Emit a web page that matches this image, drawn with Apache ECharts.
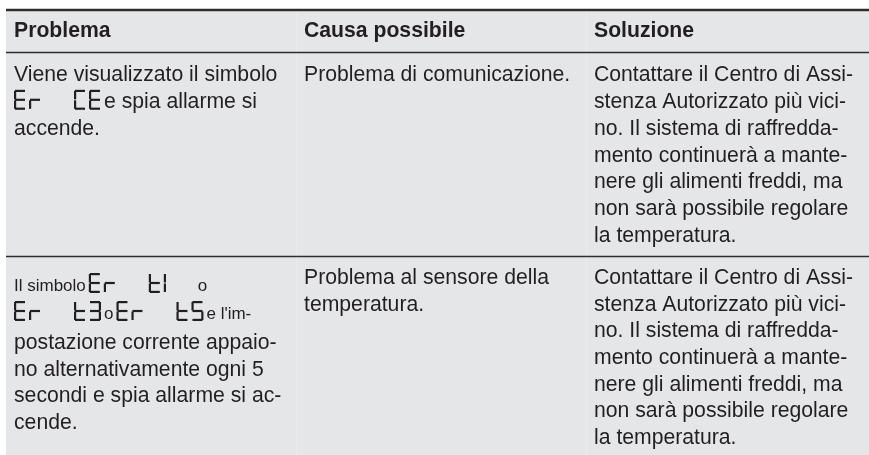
<!DOCTYPE html>
<html><head><meta charset="utf-8">
<script src="https://cdn.jsdelivr.net/npm/echarts@6/dist/echarts.min.js"></script>
<style>html,body{margin:0;padding:0;background:#fff}#c{width:869px;height:455px}</style>
</head><body><div id="c"></div>
<script>
// ---- table content ----
const headers = ["Problema", "Causa possibile", "Soluzione"];
// [..] marks a seven-segment display code, {..} marks small text
const problemLines = [
  ["Viene visualizzato il simbolo", "[Er  CE]e spia allarme si", "accende."],
  ["{Il simbolo}[Er  t1]{    o}", "[Er  t3]{o}[Er  t5]{e l'im-}", "postazione corrente appaio-", "no alternativamente ogni 5", "secondi e spia allarme si ac-", "cende."]
];
const causeLines = [
  ["Problema di comunicazione."],
  ["Problema al sensore della", "temperatura."]
];
const solutionLines = [
  ["Contattare il Centro di Assi-", "stenza Autorizzato più vici-", "no. Il sistema di raffredda-", "mento continuerà a mante-", "nere gli alimenti freddi, ma", "non sarà possibile regolare", "la temperatura."],
  ["Contattare il Centro di Assi-", "stenza Autorizzato più vici-", "no. Il sistema di raffredda-", "mento continuerà a mante-", "nere gli alimenti freddi, ma", "non sarà possibile regolare", "la temperatura."]
];

// ---- layout / style ----
const FONT_SIZE = 21.2;
const SMALL_SIZE = 17;
const FONT_FAMILY = "'Liberation Sans', Arial, sans-serif";
const TEXT_COLOR = "#231f20";
const LINE_COLOR = "#2e2e2e";
const BG = "#e5e6e8";
const colX = [14, 304, 594];
const headerBaseline = 37.5;
const rowBaselines = [
  [[82, 108.8, 135.6], [82], [82, 108.8, 135.6, 162.4, 189.2, 216, 242.8]],
  [[292, 320, 350, 376.5, 403, 429.5], [285, 311.6], [285, 311.6, 338.2, 364.8, 391.4, 418, 444.6]]
];
const BASE_OFF = 0.31; // (baseline - middle) / font size
const GW = 12, GH = 20, GS = 2.2, GPITCH = 15, GGAP = 3;
const SEGMAP = { E: "afged", r: "eg", C: "afed", t: "fegd", "1": "ef", "3": "abgcd", "5": "afgcd", " ": "" };

const canvas = document.createElement('canvas');
const ctx = canvas.getContext('2d');
function fontStr(size, bold) { return (bold ? 'bold ' : '') + size + 'px ' + FONT_FAMILY; }
function measure(t, size, bold) {
  ctx.font = fontStr(size, bold);
  return ctx.measureText(t).width;
}

const elements = [];
// background & rules
elements.push({ type: 'rect', shape: { x: 6, y: 11, width: 863, height: 444 }, style: { fill: BG }, silent: true });
[296, 586].forEach(x => elements.push({ type: 'line', shape: { x1: x + 0.5, y1: 11, x2: x + 0.5, y2: 455 }, style: { stroke: '#ebebec', lineWidth: 1 } }));
elements.push({ type: 'line', shape: { x1: 6, y1: 10, x2: 869, y2: 10 }, style: { stroke: LINE_COLOR, lineWidth: 2.5 } });
elements.push({ type: 'line', shape: { x1: 6, y1: 52.5, x2: 869, y2: 52.5 }, style: { stroke: LINE_COLOR, lineWidth: 1.5 } });
elements.push({ type: 'line', shape: { x1: 6, y1: 256.5, x2: 869, y2: 256.5 }, style: { stroke: LINE_COLOR, lineWidth: 1.5 } });

function addText(t, x, baseline, size, bold) {
  elements.push({
    type: 'text', x: x, y: baseline - BASE_OFF * size,
    style: { text: t, fill: TEXT_COLOR, font: fontStr(size, bold), verticalAlign: 'middle', align: 'left' }
  });
}
function addGlyph(ch, x, baseline) {
  const y = baseline + 1 - GH;
  const h2 = GH / 2;
  const r = {
    a: [x + 1, y, GW - 2, GS],
    b: [x + GW - GS, y + 1, GS, h2 - 1.5],
    c: [x + GW - GS, y + h2 + 0.5, GS, h2 - 1.5],
    d: [x + 1, y + GH - GS, GW - 2, GS],
    e: [x, y + h2 + 0.5, GS, h2 - 1.5],
    f: [x, y + 1, GS, h2 - 1.5],
    g: [x + 1, y + h2 - GS / 2, GW - 2, GS]
  };
  (SEGMAP[ch] || "").split("").forEach(s => {
    const q = r[s];
    elements.push({ type: 'rect', shape: { x: q[0], y: q[1], width: q[2], height: q[3] }, style: { fill: TEXT_COLOR } });
  });
}
function addLine(line, x, baseline) {
  const parts = line.split(/(\[[^\]]*\]|\{[^}]*\})/).filter(p => p.length);
  let cx = x, prevGlyph = false;
  parts.forEach(p => {
    if (p[0] === '[') {
      if (cx > x) cx += GGAP;
      const code = p.slice(1, -1);
      code.split("").forEach((ch, i) => addGlyph(ch, cx + i * GPITCH, baseline));
      cx += (code.length - 1) * GPITCH + GW;
      prevGlyph = true;
    } else {
      let size = FONT_SIZE, t = p;
      if (p[0] === '{') { size = SMALL_SIZE; t = p.slice(1, -1); }
      if (prevGlyph) cx += GGAP;
      addText(t, cx, baseline, size, false);
      cx += measure(t, size, false);
      prevGlyph = false;
    }
  });
}

headers.forEach((h, i) => addText(h, colX[i], headerBaseline, FONT_SIZE, true));
[problemLines, causeLines, solutionLines].forEach((col, ci) => {
  col.forEach((lines, ri) => {
    lines.forEach((ln, li) => addLine(ln, colX[ci], rowBaselines[ri][ci][li]));
  });
});

const chart = echarts.init(document.getElementById('c'), null, { renderer: 'canvas' });
chart.setOption({ backgroundColor: '#ffffff', animation: false, graphic: { elements: elements } });
</script>
</body></html>
